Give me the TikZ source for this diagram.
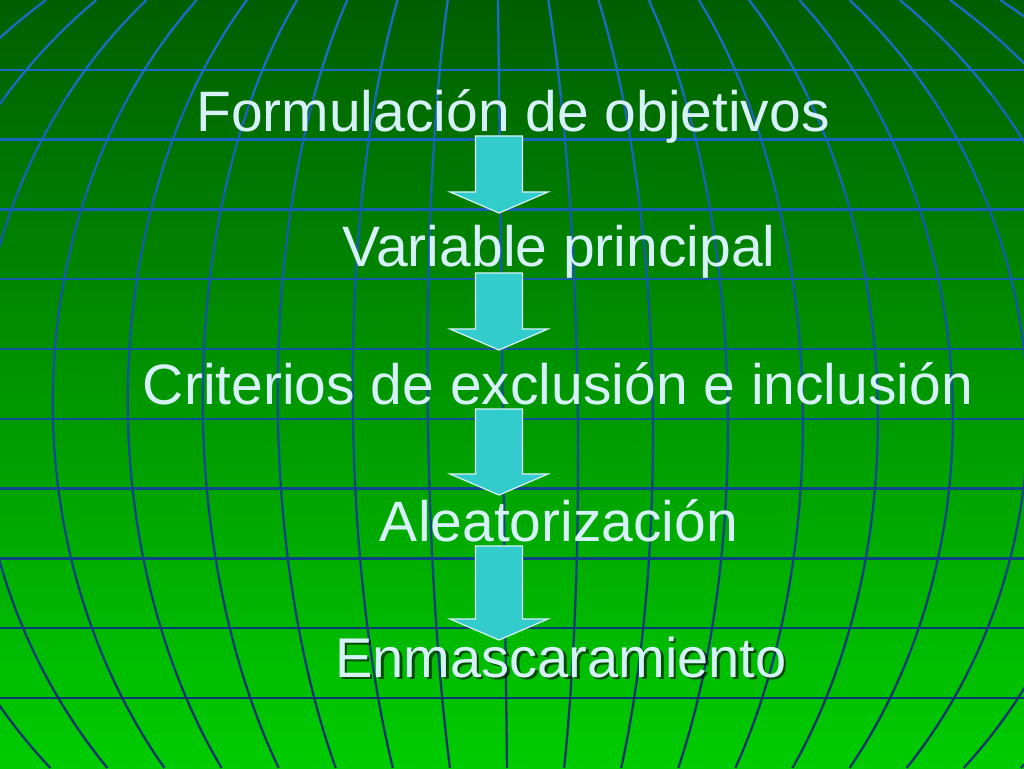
\documentclass[tikz,border=0pt]{standalone}
\usepackage{fontspec}
\setmainfont{Liberation Sans}
\usetikzlibrary{calc}

\definecolor{bgtop}{RGB}{0,94,0}
\definecolor{bgmid}{RGB}{0,142,0}
\definecolor{bgbot}{RGB}{0,204,0}
\definecolor{gridtop}{RGB}{26,112,206}
\definecolor{gridbot}{RGB}{8,50,100}
\definecolor{labeltext}{RGB}{214,242,248}
\definecolor{arrowfill}{RGB}{51,204,204}

\tikzset{
  steplabel/.style={text=labeltext,font=\fontsize{57}{68}\selectfont,anchor=base,inner sep=0pt},
  gridline/.style={line width=2.3pt},
  blockarrow/.style={fill=arrowfill,draw=labeltext,line width=1.2pt,line join=miter},
}

% block arrow from (#1) down to its tip (#2)
\newcommand{\downblock}[2]{%
  \draw[blockarrow] ($(#1)+(-23.5,0)$) -- ($(#2)+(-23.5,21)$) -- ($(#2)+(-49,21)$)
    -- (#2) -- ($(#2)+(49,21)$) -- ($(#2)+(23.5,21)$) -- ($(#1)+(23.5,0)$) -- cycle;}

\begin{document}
\begin{tikzpicture}[x=1pt,y=1pt]
    \useasboundingbox (0,0) rectangle (1024,768);
    % Background and globe grid
    \shade[top color=bgtop,middle color=bgmid,bottom color=bgbot] (0,0) rectangle (1024,768);
    \begin{scope}
    \clip (0,0) rectangle (1024,768);
    \foreach \k in {1,...,10} {
        \pgfmathsetmacro\mix{9.09*\k}
        \draw[gridline,color=gridbot!\mix!gridtop] (0,768-69.8*\k) -- (1024,768-69.8*\k);
    }
    \foreach \b in {0,...,7} {
        \pgfmathsetmacro\mix{100*(\b+0.5)/8}
        \pgfmathsetmacro\ya{96*\b}
        \pgfmathsetmacro\yb{96*\b+96}
        \foreach \k in {-10,...,10}
            \draw[gridline,color=gridbot!\mix!gridtop] plot[domain=\ya:\yb,samples=12]
                ({498+9*\x/768+75*(\k)*sqrt(1-((\x-410)/552)^2)},{768-\x});
    }
    \end{scope}
    % Labels
    \node[steplabel] (objetivos) at (513,636) {Formulación de objetivos};
    \node[steplabel] (variable) at (559,501) {Variable principal};
    \node[steplabel] (criterios) at (558,363) {Criterios de exclusión e inclusión};
    \node[steplabel] (aleatorizacion) at (559,226) {Aleatorización};
    \node[steplabel,text=black,opacity=0.6,font=\fontsize{56}{66}\selectfont] (enmsombra) at (563.5,88.5) {Enmascaramiento};
    \node[steplabel,font=\fontsize{56}{66}\selectfont] (enmascaramiento) at (561,91) {Enmascaramiento};
    % Arrows
    \coordinate (s1) at (499,632); \coordinate (t1) at (499,555);
    \coordinate (s2) at (499,495); \coordinate (t2) at (499,418);
    \coordinate (s3) at (499,359); \coordinate (t3) at (499,273);
    \coordinate (s4) at (499,222); \coordinate (t4) at (499,128);
    \downblock{s1}{t1}
    \downblock{s2}{t2}
    \downblock{s3}{t3}
    \downblock{s4}{t4}
\end{tikzpicture}
\end{document}
